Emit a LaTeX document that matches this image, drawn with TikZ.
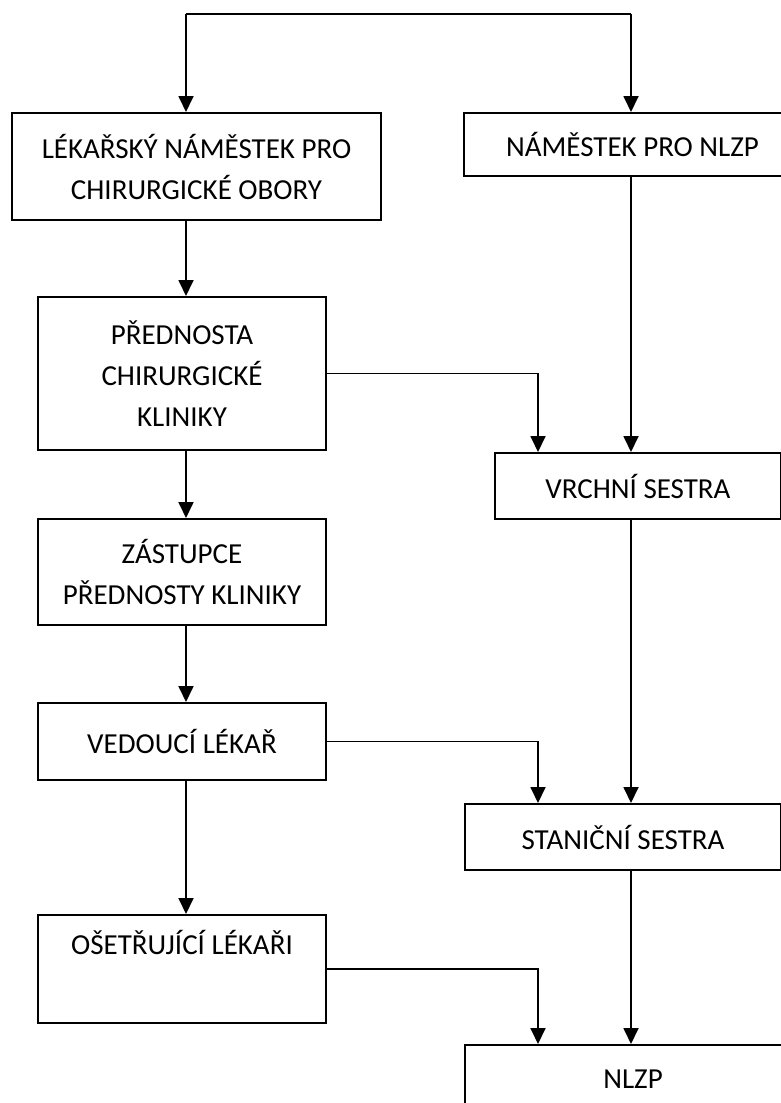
\documentclass[tikz,border=0pt]{standalone}
\usepackage{fontspec}
\setmainfont{Carlito}
\usetikzlibrary{arrows.meta,positioning}

\begin{document}
\begin{tikzpicture}[x=1pt, y=-1pt,
            box/.style = {draw, line width=2pt, align=center, inner sep=0pt,
                          font=\fontsize{29}{41}\selectfont, anchor=north west},
            arr/.style = {line width=1.8pt, -{Triangle[length=16pt, width=15pt]}}
            ]
            \clip (0,0) rectangle (781,1103);
            % left column
            \node[box, minimum width=369pt, minimum height=107pt] (lek) at (11,112)
                {\fontsize{29}{48}\selectfont LÉKAŘSKÝ NÁMĚSTEK PRO\\CHIRURGICKÉ OBORY};
            \node[box, minimum width=288pt, minimum height=153pt] (pred) at (37,296)
                {PŘEDNOSTA\\CHIRURGICKÉ\\KLINIKY};
            \node[box, minimum width=288pt, minimum height=106pt] (zast) at (37,518)
                {ZÁSTUPCE\\PŘEDNOSTY KLINIKY};
            \node[box, minimum width=288pt, minimum height=77pt] (ved) at (37,702)
                {VEDOUCÍ LÉKAŘ};
            \node[box, minimum width=288pt, minimum height=108pt] (oset) at (37,914)
                {OŠETŘUJÍCÍ LÉKAŘI\\\strut};
            % right column
            \node[box, minimum width=337pt, minimum height=63pt] (nam) at (463,112)
                {NÁMĚSTEK PRO NLZP};
            \node[box, minimum width=286pt, minimum height=66pt] (vrch) at (494,452)
                {VRCHNÍ SESTRA};
            \node[box, minimum width=316pt, minimum height=66pt] (stan) at (464,803)
                {STANIČNÍ SESTRA};
            \node[box, minimum width=336pt, minimum height=68pt] (nlzp) at (464,1044)
                {NLZP};
            % column lines
            \coordinate (cl) at (186,14);
            \coordinate (cm) at (538,14);
            \coordinate (cr) at (631,14);
            \draw[line width=1.8pt] (cl) -- (cr);
            \draw[arr] (cl) -- (lek.north -| cl);
            \draw[arr] (cr) -- (nam.north -| cr);
            \draw[arr] (lek.south -| cl) -- (pred.north -| cl);
            \draw[arr] (pred.south -| cl) -- (zast.north -| cl);
            \draw[arr] (zast.south -| cl) -- (ved.north -| cl);
            \draw[arr] (ved.south -| cl) -- (oset.north -| cl);
            \draw[arr] (nam.south -| cr) -- (vrch.north -| cr);
            \draw[arr] (vrch.south -| cr) -- (stan.north -| cr);
            \draw[arr] (stan.south -| cr) -- (nlzp.north -| cr);
            % cross links
            \draw[arr] (pred.east) -| (vrch.north -| cm);
            \draw[arr] (ved.east) -| (stan.north -| cm);
            \draw[arr] (oset.east) -| (nlzp.north -| cm);
\end{tikzpicture}
\end{document}
